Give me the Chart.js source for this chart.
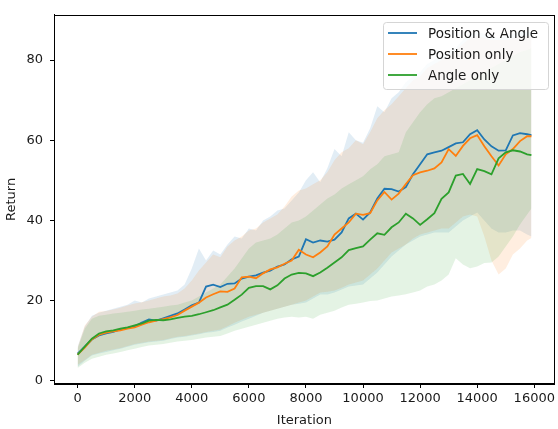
<!DOCTYPE html>
<html>
<head>
<meta charset="utf-8">
<script src="https://cdn.jsdelivr.net/npm/chart.js@4"></script>
<style>
  html, body { margin: 0; padding: 0; background: #fff; }
  #wrap { width: 558px; height: 429px; }
</style>
</head>
<body>
<div id="wrap"><canvas id="returnChart" width="558" height="429"></canvas></div>
<script>
// iterations sampled from the curves
const iterations = [0, 250, 500, 750, 1000, 1250, 1500, 1750, 2000, 2250, 2500, 2750, 3000, 3250, 3500, 3750,
    4000, 4250, 4500, 4750, 5000, 5250, 5500, 5750, 6000, 6250, 6500, 6750, 7000, 7250, 7500, 7750,
    8000, 8250, 8500, 8750, 9000, 9250, 9500, 9750, 10000, 10250, 10500, 10750, 11000, 11250, 11500, 11750,
    12000, 12250, 12500, 12750, 13000, 13250, 13500, 13750, 14000, 14250, 14500, 14750, 15000, 15250, 15500, 15750, 15900];

// Position & Angle
const posAngleMean = [6.8, 8.5, 10.3, 11.3, 11.8, 12.2, 12.8, 13.2, 13.6, 14.5, 15.3, 15.0, 15.6, 16.2, 16.8, 17.8,
    18.8, 19.5, 23.5, 24, 23.4, 24.2, 24.3, 25.5, 26, 26.3, 27, 27.5, 28.5, 29, 30.3, 31,
    35.3, 34.5, 35, 34.7, 35.2, 37, 40.5, 41.7, 40.2, 42, 45.5, 47.9, 47.8, 47.2, 48.3, 51.5,
    54, 56.5, 57, 57.4, 58.3, 59.2, 59.5, 61.5, 62.5, 60.2, 58.5, 57.4, 57.5, 61.2, 61.8, 61.5, 61.3];
const posAngleHigh = [8.5, 13.5, 16.2, 17, 17.5, 18, 18.5, 19, 20, 19.5, 20.5, 21, 21.5, 22, 22.5, 24,
    28, 33, 30, 32.5, 31.5, 34, 36, 35.5, 38, 37.5, 40, 41, 42.5, 43, 45, 47,
    50, 52, 49.5, 53, 57.8, 56, 62, 60, 59.4, 63, 68.5, 67, 70.5, 72, 74.5, 76,
    77, 79, 80, 81, 82, 83, 85, 86.5, 87, 86.5, 86, 85.5, 86, 86.5, 87, 87, 87];
const posAngleLow = [3.5, 5, 6.3, 6.8, 7.2, 7.6, 8, 8.5, 9, 9.3, 9.6, 9.8, 10, 10.4, 10.8, 11,
    11.3, 11.6, 12, 12.2, 12.5, 13.3, 14, 14.8, 15.5, 16.2, 17, 17.5, 18, 18.5, 19, 19.2,
    19.5, 20.5, 21.5, 21.5, 22, 22.8, 23.5, 23.8, 24, 25.5, 27, 29, 31, 32.5, 34, 35,
    36, 36.5, 37, 37, 37, 38.5, 40, 41, 42, 40, 38, 37, 37, 37.5, 37.5, 36.5, 36];

// Position only
const posOnlyMean = [6.5, 8.3, 10.3, 11.5, 12, 12.3, 12.6, 13, 13.3, 14, 14.6, 15, 15.4, 15.8, 16.4, 17.5,
    18.5, 19.5, 20.8, 21.6, 22.3, 22.2, 23, 25.8, 26, 25.6, 26.8, 27.8, 28.3, 29.2, 30, 32.7,
    31.5, 30.8, 32, 33.5, 36.5, 38, 39.5, 41.7, 41.4, 41.8, 45, 47.1, 45.2, 46.7, 49.1, 51.3,
    52, 52.4, 53, 54.5, 57.8, 56.1, 58.6, 60.5, 61.3, 58.5, 56, 53.7, 56.5, 57.8, 59.8, 61, 61];
const posOnlyHigh = [8.3, 13.8, 16, 17.2, 17.4, 17.8, 18.2, 18.8, 19.3, 19.6, 20, 20.5, 21, 21.3, 21.8, 23,
    25, 27.5, 29.5, 31.5, 30.8, 33.5, 35, 36, 37.5, 38, 39.5, 40.5, 41.5, 43.5, 46, 47.5,
    48, 49, 50, 52, 55, 57, 58, 60, 59, 62, 65.5, 67.5, 69, 71, 73, 75,
    76, 78, 79, 80, 81, 82.5, 84, 85.5, 86, 85.5, 85, 85, 85, 85.5, 86, 86, 86];
const posOnlyLow = [4, 5.2, 6.5, 7, 7.5, 7.8, 8.2, 8.7, 9.2, 9.5, 9.8, 10, 10.2, 10.6, 11, 11.2,
    11.5, 11.8, 12.2, 12.5, 12.8, 13.6, 14.5, 15.2, 16, 16.5, 17, 17.5, 18, 18.5, 19, 19.5,
    20, 21, 22, 22.2, 22.5, 23.2, 24, 24.5, 25, 26.5, 28, 30, 32, 33, 34, 35.5,
    36.5, 37, 37.5, 38, 38, 39.5, 41, 41.5, 41, 36, 30, 26.5, 28, 31.5, 33, 35, 35.6];

// Angle only
const angleOnlyMean = [6.5, 8.5, 10.5, 11.8, 12.3, 12.6, 13, 13.3, 13.8, 14.3, 15, 15.2, 15.1, 15.3, 15.7, 16,
    16.2, 16.6, 17.1, 17.6, 18.3, 19, 20.2, 21.5, 23.2, 23.6, 23.6, 22.8, 23.8, 25.5, 26.5, 26.9,
    26.8, 26.1, 27, 28.2, 29.5, 30.8, 32.6, 33.1, 33.5, 35.2, 36.8, 36.4, 38.3, 39.5, 41.7, 40.5,
    38.9, 40.3, 41.8, 45.4, 47, 51.2, 51.6, 49.1, 52.8, 52.3, 51.5, 55.5, 57, 57.5, 57.2, 56.5, 56.3];
const angleOnlyHigh = [8, 13, 15.5, 16.2, 16.5, 16.8, 17, 17.2, 17.5, 17.8, 18, 18.2, 18.5, 18.8, 19, 19.5,
    20, 21, 22, 23, 24, 26, 28, 30.5, 33, 34.5, 35, 35.5, 36.5, 38, 39.5, 40,
    41, 42.5, 44, 45.5, 46.5, 48, 49, 50, 51, 52.8, 54, 56, 56.5, 57, 62, 64.5,
    67, 69, 70.5, 71, 72, 73, 74, 75, 76, 77, 78, 79, 80, 81, 82, 82.5, 83];
const angleOnlyLow = [3.2, 4.5, 5.5, 6, 6.5, 6.8, 7.2, 7.6, 8, 8.4, 8.8, 9, 9.2, 9.5, 9.8, 10,
    10.2, 10.5, 10.8, 11, 11.2, 11.8, 12.5, 13, 13.5, 14, 14.5, 15, 15.5, 15.8, 16, 15.8,
    16, 15.5, 16.5, 17, 17.5, 18.3, 19, 19.2, 19.5, 19.9, 20, 20.5, 21, 21.3, 21.6, 22,
    22.5, 23.5, 24, 25, 26.5, 30.6, 29, 28.1, 28.5, 29.4, 29.5, 31, 33.5, 36, 39, 41.5, 43];

const xTicks = [0, 2000, 4000, 6000, 8000, 10000, 12000, 14000, 16000];
const yTicks = [0, 20, 40, 60, 80];

const seriesNames = ['Position & Angle', 'Position only', 'Angle only'];
const seriesColors = ['#1f77b4', '#ff7f0e', '#2ca02c'];
const bandColors = ['rgba(31,119,180,0.13)', 'rgba(255,127,14,0.13)', 'rgba(44,160,44,0.13)'];

const FONT = 'DejaVu Sans';
const pts = arr => iterations.map((x, i) => ({ x: x, y: arr[i] }));

const means = [posAngleMean, posOnlyMean, angleOnlyMean];
const highs = [posAngleHigh, posOnlyHigh, angleOnlyHigh];
const lows = [posAngleLow, posOnlyLow, angleOnlyLow];

const datasets = [];
// bands first: lower edge then upper edge filled down to it
for (let s = 0; s < 3; s++) {
    const lowIndex = datasets.length;
    datasets.push({
        data: pts(lows[s]), borderWidth: 0, pointRadius: 0,
        fill: false, order: 20 - s * 2
    });
    datasets.push({
        data: pts(highs[s]), borderWidth: 0, pointRadius: 0,
        backgroundColor: bandColors[s], fill: lowIndex, order: 19 - s * 2
    });
}
// mean lines, later series drawn on top
for (let s = 0; s < 3; s++) {
    datasets.push({
        label: seriesNames[s], data: pts(means[s]),
        borderColor: seriesColors[s], borderWidth: 1.8, pointRadius: 0,
        fill: false, tension: 0, order: 2 - s
    });
}

// box around plot area + matplotlib style legend
const framePlugin = {
    id: 'frame',
    afterDraw(chart) {
        const ctx = chart.ctx;
        const a = chart.chartArea;
        ctx.save();
        ctx.strokeStyle = '#000';
        ctx.lineWidth = 1;
        ctx.strokeRect(Math.round(a.left) + 0.5, Math.round(a.top) + 0.5,
            Math.round(a.right - a.left) - 1, Math.round(a.bottom - a.top) - 1);

        // legend
        const bx = Math.round(a.right - 172), by = Math.round(a.top + 7), bw = 165, bh = 67;
        ctx.fillStyle = 'rgba(255,255,255,0.8)';
        ctx.strokeStyle = '#d5d5d5';
        ctx.beginPath();
        ctx.roundRect(bx + 0.5, by + 0.5, bw, bh, 3);
        ctx.fill();
        ctx.stroke();
        ctx.font = '13.5px "' + FONT + '"';
        ctx.textBaseline = 'middle';
        ctx.textAlign = 'left';
        for (let s = 0; s < 3; s++) {
            const y = by + 11 + s * 21;
            ctx.strokeStyle = seriesColors[s];
            ctx.lineWidth = 1.8;
            ctx.beginPath();
            ctx.moveTo(bx + 5, y);
            ctx.lineTo(bx + 34, y);
            ctx.stroke();
            ctx.fillStyle = '#1a1a1a';
            ctx.fillText(seriesNames[s], bx + 45, y + 1);
        }
        ctx.restore();
    }
};

new Chart(document.getElementById('returnChart'), {
    type: 'line',
    data: { datasets: datasets },
    options: {
        responsive: false,
        animation: false,
        layout: { padding: { top: 11, right: 1, left: 0, bottom: 0 } },
        plugins: {
            legend: { display: false },
            tooltip: { enabled: false }
        },
        scales: {
            x: {
                type: 'linear',
                min: -827,
                max: 16719,
                afterBuildTicks: axis => { axis.ticks = xTicks.map(v => ({ value: v })); },
                afterFit: axis => { axis.height = 45; },
                ticks: {
                    font: { family: FONT, size: 13 }, color: '#1a1a1a', padding: 3,
                    maxRotation: 0, autoSkip: false, callback: v => String(v)
                },
                grid: { drawOnChartArea: false, drawTicks: true, tickLength: 4, color: '#000' },
                border: { display: true, color: '#000' },
                title: { display: true, text: 'Iteration', font: { family: FONT, size: 13 }, color: '#1a1a1a', padding: { top: 0, bottom: 1 } }
            },
            y: {
                min: -0.8,
                max: 91.3,
                afterBuildTicks: axis => { axis.ticks = yTicks.map(v => ({ value: v })); },
                afterFit: axis => { axis.width = 54; },
                ticks: { font: { family: FONT, size: 13 }, color: '#1a1a1a', padding: 7, callback: v => String(v) },
                grid: { drawOnChartArea: false, drawTicks: true, tickLength: 4, color: '#000' },
                border: { display: true, color: '#000' },
                title: { display: true, text: 'Return', font: { family: FONT, size: 13 }, color: '#1a1a1a', padding: { top: 4, bottom: 0 } }
            }
        }
    },
    plugins: [framePlugin]
});
</script>
</body>
</html>
